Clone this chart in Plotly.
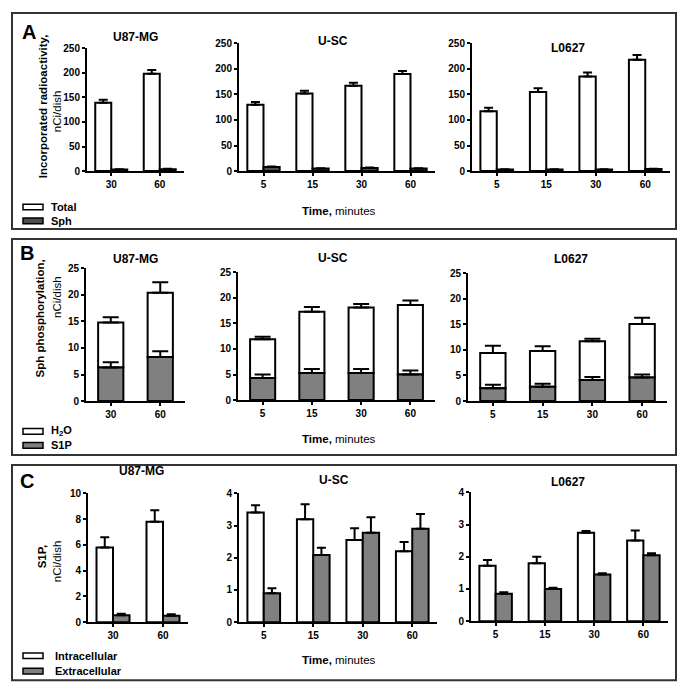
import plotly.graph_objects as go

W, H = 683, 694

# ---------------- DATA ----------------
times_u87 = ["30", "60"]
times_4 = ["5", "15", "30", "60"]

# Panel A: incorporated radioactivity (nCi/dish)
a_u87_total = [139, 198]
a_u87_total_err = [6, 8]
a_u87_sph = [3, 4]
a_u87_sph_err = [0.8, 1.0]
a_usc_total = [130, 152, 167, 190]
a_usc_total_err = [5, 5, 6, 6]
a_usc_sph = [8, 5, 6, 5]
a_usc_sph_err = [1, 0.8, 0.8, 0.8]
a_l0627_total = [117, 155, 185, 218]
a_l0627_total_err = [7, 7, 8, 9]
a_l0627_sph = [3, 3, 3, 4]
a_l0627_sph_err = [0.5, 0.5, 0.5, 0.5]

# Panel B: Sph phosphorylation (stacked: S1P bottom, H2O on top)
b_u87_s1p = [6.3, 8.3]
b_u87_s1p_err = [1.0, 1.1]
b_u87_h2o = [8.5, 12.1]
b_u87_h2o_err = [1.0, 2.0]
b_usc_s1p = [4.3, 5.3, 5.3, 5.0]
b_usc_s1p_err = [0.7, 0.8, 0.8, 0.8]
b_usc_h2o = [7.6, 12.0, 12.8, 13.6]
b_usc_h2o_err = [0.5, 0.9, 0.7, 0.9]
b_l0627_s1p = [2.5, 2.8, 4.1, 4.6]
b_l0627_s1p_err = [0.7, 0.6, 0.6, 0.6]
b_l0627_h2o = [6.9, 7.0, 7.6, 10.5]
b_l0627_h2o_err = [1.4, 0.9, 0.5, 1.2]

# Panel C: S1P intracellular / extracellular
c_u87_intra = [5.8, 7.8]
c_u87_intra_err = [0.8, 0.9]
c_u87_extra = [0.53, 0.5]
c_u87_extra_err = [0.12, 0.12]
c_usc_intra = [3.41, 3.2, 2.55, 2.2]
c_usc_intra_err = [0.22, 0.46, 0.37, 0.29]
c_usc_extra = [0.9, 2.09, 2.78, 2.9]
c_usc_extra_err = [0.15, 0.22, 0.48, 0.46]
c_l0627_intra = [1.72, 1.8, 2.75, 2.51]
c_l0627_intra_err = [0.18, 0.2, 0.05, 0.31]
c_l0627_extra = [0.85, 1.0, 1.45, 2.05]
c_l0627_extra_err = [0.05, 0.04, 0.04, 0.06]

cell_lines = ["U87-MG", "U-SC", "L0627"]

# ---------------- STYLE ----------------
FONT = "Arial, Liberation Sans, sans-serif"
WHITE = "#ffffff"
DARK = "#4d4d4d"
GRAY = "#808080"


def px_x(p):
    return p / W


def px_y(p):
    return 1 - p / H


fig = go.Figure()

# subplot pixel geometry: (x0, x1, y_bottom, y_top, ymax, dtick)
geoms = [
    (87, 184, 168, 43, 250, 50), (239, 435, 168, 38, 250, 50), (472, 670, 168, 38, 250, 50),
    (86, 185, 402, 267, 25, 5), (238, 435, 401, 271, 25, 5), (468, 667, 402, 272, 25, 5),
    (88, 188, 627, 496, 10, 2), (239, 437, 627, 496, 4, 1), (471, 668, 626, 495, 4, 1),
]
cats = [times_u87, times_4, times_4] * 3

layout_axes = {}
for i, (x0, x1, yb, yt, ymax, dt) in enumerate(geoms):
    n = i + 1
    xa = "xaxis" if n == 1 else f"xaxis{n}"
    ya = "yaxis" if n == 1 else f"yaxis{n}"
    xref = "x" if n == 1 else f"x{n}"
    yref = "y" if n == 1 else f"y{n}"
    common = dict(showline=True, linewidth=2, linecolor="black", ticks="outside",
                  ticklen=3, tickwidth=2, tickcolor="black", showgrid=False,
                  zeroline=False, tickfont=dict(family=FONT, size=10, color="black", weight="bold"))
    layout_axes[xa] = dict(domain=[px_x(x0), px_x(x1)], anchor=yref, type="category",
                           categoryorder="array", categoryarray=cats[i],
                           range=[-0.5, len(cats[i]) - 0.5], **common)
    layout_axes[ya] = dict(domain=[px_y(yb), px_y(yt)], anchor=xref, range=[0, ymax],
                           dtick=dt, tick0=0, ticklabelstandoff=0, **common)


def axref(n):
    return ("x" if n == 1 else f"x{n}"), ("y" if n == 1 else f"y{n}")


def add_bar(n, x, y, err, color, offset, width, capw, base=None):
    xr, yr = axref(n)
    fig.add_trace(go.Bar(
        x=x, y=y, base=base, xaxis=xr, yaxis=yr, offset=offset, width=width,
        marker=dict(color=color, line=dict(color="black", width=2)),
        error_y=dict(type="data", symmetric=False, array=err, arrayminus=[0] * len(err),
                     color="black", thickness=2, width=capw),
        showlegend=False, hoverinfo="skip"))


# Panel A (grouped)
for n, x, tot, tote, sph, sphe in [
    (1, times_u87, a_u87_total, a_u87_total_err, a_u87_sph, a_u87_sph_err),
    (2, times_4, a_usc_total, a_usc_total_err, a_usc_sph, a_usc_sph_err),
    (3, times_4, a_l0627_total, a_l0627_total_err, a_l0627_sph, a_l0627_sph_err),
]:
    add_bar(n, x, tot, tote, WHITE, -0.33, 0.33, 4.5)
    add_bar(n, x, sph, sphe, DARK, 0.0, 0.33, 4.5)

# Panel B (stacked)
for n, x, s1p, s1pe, h2o, h2oe in [
    (4, times_u87, b_u87_s1p, b_u87_s1p_err, b_u87_h2o, b_u87_h2o_err),
    (5, times_4, b_usc_s1p, b_usc_s1p_err, b_usc_h2o, b_usc_h2o_err),
    (6, times_4, b_l0627_s1p, b_l0627_s1p_err, b_l0627_h2o, b_l0627_h2o_err),
]:
    add_bar(n, x, h2o, h2oe, WHITE, -0.255, 0.51, 8, base=s1p)
    add_bar(n, x, s1p, s1pe, GRAY, -0.255, 0.51, 8)

# Panel C (grouped)
for n, x, it, ite, ex, exe in [
    (7, times_u87, c_u87_intra, c_u87_intra_err, c_u87_extra, c_u87_extra_err),
    (8, times_4, c_usc_intra, c_usc_intra_err, c_usc_extra, c_usc_extra_err),
    (9, times_4, c_l0627_intra, c_l0627_intra_err, c_l0627_extra, c_l0627_extra_err),
]:
    add_bar(n, x, it, ite, WHITE, -0.33, 0.33, 4.5)
    add_bar(n, x, ex, exe, GRAY, 0.0, 0.33, 4.5)

annotations = []
shapes = []


def text(x, y, t, size=11, bold=False, angle=0, xanchor="center"):
    annotations.append(dict(
        x=px_x(x), y=px_y(y), xref="paper", yref="paper", text=t, showarrow=False,
        textangle=angle, xanchor=xanchor, yanchor="middle",
        font=dict(family=FONT, size=size, color="black", weight="bold" if bold else "normal")))


# panel boxes
for (t, b) in [(7, 227), (237, 457), (467, 686)]:
    shapes.append(dict(type="rect", xref="paper", yref="paper", x0=px_x(12), x1=px_x(676),
                       y0=px_y(b), y1=px_y(t), line=dict(color="#333333", width=2)))

# panel letters
text(29, 26, "A", size=20, bold=True)
text(27, 251, "B", size=20, bold=True)
text(27, 483, "C", size=20, bold=True)

# subplot titles
title_pos = [(135, 32), (333, 36), (568, 43),
             (135, 257), (333, 256), (571, 257),
             (141, 473), (334, 482), (568, 484)]
for i, (x, y) in enumerate(title_pos):
    text(x, y, cell_lines[i % 3], size=12, bold=True)

# y titles
text(43, 102, "Incorporated radioactivity,", size=11.5, bold=True, angle=-90)
text(57, 107, "nCi/dish", size=11.5, angle=-90)
text(40, 318, "Sph phosphorylation,", size=11.5, bold=True, angle=-90)
text(57, 296, "nCi/dish", size=11.5, angle=-90)
text(42, 561, "S1P,", size=11.5, bold=True, angle=-90)
text(57, 565, "nCi/dish", size=11.5, angle=-90)

# x titles
for y in [209, 441, 666]:
    text(339, y, "<b>Time,</b> minutes", size=11.5)

# legends
legends = [
    [(201.7, 207.3, WHITE, "Total", 49), (215.7, 221.7, DARK, "Sph", 49)],
    [(430, 435.7, WHITE, "H<sub>2</sub>O", 49), (444.3, 450, GRAY, "S1P", 49)],
    [(658.3, 664, WHITE, "Intracellular", 53), (674, 679.7, GRAY, "Extracellular", 53)],
]
for grp in legends:
    for (t, b, col, lab, tx) in grp:
        shapes.append(dict(type="rect", xref="paper", yref="paper", x0=px_x(23), x1=px_x(43),
                           y0=px_y(b), y1=px_y(t), fillcolor=col,
                           line=dict(color="black", width=1.5)))
        text(tx, (t + b) / 2, lab, size=11, bold=True, xanchor="left")

fig.update_layout(
    width=W, height=H, margin=dict(l=0, r=0, t=0, b=0),
    paper_bgcolor="white", plot_bgcolor="white", barmode="overlay",
    showlegend=False, annotations=annotations, shapes=shapes, **layout_axes)

fig.write_html(
    "out.html",
    config={"displayModeBar": False},
    post_script="document.body.style.margin='0';document.body.style.overflow='hidden';"
                "document.documentElement.style.overflow='hidden';",
)
